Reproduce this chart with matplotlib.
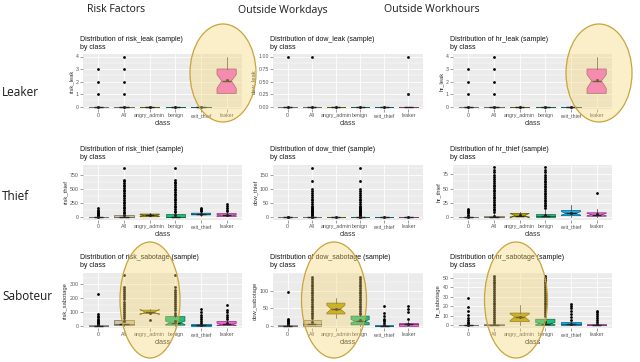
import matplotlib
matplotlib.use("Agg")
import matplotlib.pyplot as plt
from matplotlib.patches import Ellipse
from matplotlib.ticker import AutoMinorLocator
from matplotlib.colors import to_rgb

W, H = 640, 362

categories = ["0", "All", "angry_admin", "benign", "exit_thief", "leaker"]
box_colors = ["#d6cfc4", "#cdc3a6", "#b79f00", "#1dbf7a", "#13aee8", "#f564d8"]

col_titles = ["Risk Factors", "Outside Workdays", "Outside Workhours"]
row_titles = ["Leaker", "Thief", "Saboteur"]

# box stats per class: (whisker low, q1, median, q3, whisker high, mean)
risk_leak_stats = [(0, 0, 0, 0, 0, 0)] * 5 + [(1.05, 1.05, 2.05, 3.0, 4.0, 2.1)]
risk_leak_notch = [None] * 5 + [(1.45, 2.55)]
risk_leak_fliers = [[1, 2, 3], [1, 2, 3, 4], [], [], [], []]

dow_leak_stats = [(0, 0, 0, 0, 0, 0)] * 5 + [(0, 0, 0, 0, 0, 0.25)]
dow_leak_notch = [None] * 6
dow_leak_fliers = [[1.0], [1.0], [], [], [], [1.0]]

hr_leak_stats = [(0, 0, 0, 0, 0, 0)] * 5 + [(1.05, 1.05, 2.05, 3.0, 4.0, 2.1)]
hr_leak_notch = [None] * 5 + [(1.45, 2.55)]
hr_leak_fliers = [[1, 2, 3], [1, 2, 3, 4], [], [], [], []]

risk_thief_stats = [(0, 0, 2, 8, 20, 8), (0, 2, 12, 40, 60, 35), (5, 12, 35, 60, 75, 38),
                    (0, 3, 15, 60, 80, 40), (30, 45, 55, 75, 95, 60), (0, 15, 40, 70, 90, 45)]
risk_thief_notch = [None, None, (22, 48), None, (50, 62), (30, 50)]
risk_thief_fliers = [
    [25, 35, 45, 55, 70, 85, 100, 120, 140, 160],
    [70, 100, 130, 160, 190, 220, 250, 280, 310, 340, 370, 400, 430, 460, 490, 520, 550, 580, 610, 640, 660, 880],
    [],
    [90, 120, 150, 180, 210, 240, 270, 300, 330, 360, 390, 420, 450, 480, 510, 540, 570, 600, 630, 660, 880],
    [110, 130, 150, 170],
    [110, 140, 170, 200, 240],
]

dow_thief_stats = [(0, 0, 0, 0.5, 1, 0.3)] * 6
dow_thief_notch = [None] * 6
dow_thief_fliers = [
    [2],
    [3, 6, 9, 12, 15, 18, 21, 24, 27, 30, 34, 38, 42, 47, 53, 60, 65, 72, 80, 88, 95, 100, 128, 175],
    [],
    [3, 6, 9, 12, 15, 18, 21, 24, 27, 30, 34, 38, 42, 47, 53, 60, 65, 72, 80, 88, 95, 100, 128, 175],
    [], [],
]

hr_thief_stats = [(0, 0, 0, 1, 2, 0.5), (0, 0, 1, 3, 7, 2), (0, 1, 3, 7, 9, 3.5),
                  (0, 0, 2, 6, 12, 4), (0, 3, 7, 12, 22, 8), (0, 2, 5, 8, 15, 6)]
hr_thief_notch = [None, None, (-1, 7), None, (4, 10), (3, 7)]
hr_thief_fliers = [
    [3, 5, 7, 9, 11, 13, 15],
    [9, 12, 15, 18, 21, 24, 27, 30, 33, 36, 39, 42, 45, 48, 51, 54, 57, 60, 63, 66, 70, 74, 78, 82, 87],
    [],
    [16, 19, 22, 25, 28, 31, 34, 37, 40, 43, 46, 49, 52, 55, 58, 61, 64, 67, 70, 74, 78, 82, 87],
    [],
    [43],
]

risk_sab_stats = [(0, 0, 0, 2, 5, 3), (0, 2, 10, 40, 48, 30), (85, 88, 97, 112, 118, 95),
                  (0, 3, 20, 65, 75, 32), (0, 0, 2, 10, 15, 6), (0, 0, 8, 30, 40, 18)]
risk_sab_notch = [None, None, (78, 118), (8, 32), None, (2, 16)]
risk_sab_fliers = [
    [10, 15, 20, 25, 30, 40, 50, 60, 70, 85, 230],
    [55, 70, 85, 100, 115, 130, 145, 160, 175, 190, 205, 220, 235, 250, 265, 280, 365],
    [39],
    [80, 95, 110, 125, 140, 155, 170, 185, 200, 215, 230, 245, 260, 280, 365],
    [22, 35, 50, 65, 80, 100, 120],
    [50, 65, 80, 100, 110, 150],
]

dow_sab_stats = [(0, 0, 0, 1, 3, 1), (0, 0, 5, 16, 20, 10), (21, 33, 47, 64, 78, 46),
                 (0, 2, 12, 27, 30, 15), (0, 0, 0, 2, 4, 1), (0, 0, 3, 8, 12, 5)]
dow_sab_notch = [None, None, (36, 58), (8, 17), None, None]
dow_sab_fliers = [
    [5, 8, 10, 13, 16, 20, 95],
    [22, 27, 32, 37, 42, 47, 52, 57, 62, 67, 72, 77, 82, 87, 92, 97, 102, 107, 112, 117, 122, 127, 132, 138],
    [],
    [32, 37, 42, 47, 52, 57, 62, 67, 72, 77, 82, 87, 92, 97, 102, 107, 112, 117, 122, 127, 132, 138],
    [8, 12, 16, 20, 27, 35, 57],
    [20, 40, 48, 57],
]

hr_sab_stats = [(0, 0, 0, 0.5, 1, 0.5), (0, 0, 0.5, 2, 3, 1), (0, 4, 9, 13, 21, 9),
                (0, 0, 2, 6.5, 9, 4), (0, 0, 1, 3.5, 5, 2), (0, 0, 0.5, 2, 3, 1)]
hr_sab_notch = [None, None, (5, 12), (1, 3), None, None]
hr_sab_fliers = [
    [2, 3, 4, 6, 8, 11, 15, 19, 29],
    [4, 6, 8, 10, 12, 14, 16, 18, 20, 22, 24, 26, 28, 30, 32, 34, 36, 38, 40, 42, 44, 46, 48, 50, 52],
    [],
    [10, 12, 14, 16, 18, 20, 22, 24, 26, 28, 30, 32, 34, 36, 38, 40, 42, 44, 46, 48, 50, 52],
    [6, 9, 12, 15, 18, 20, 23],
    [4, 6, 8, 10, 12, 14, 15],
]

panels = [
    ("risk_leak", risk_leak_stats, risk_leak_notch, risk_leak_fliers, (-0.2, 4.2), [0, 1, 2, 3, 4], None),
    ("dow_leak", dow_leak_stats, dow_leak_notch, dow_leak_fliers, (-0.05, 1.05), [0, 0.25, 0.5, 0.75, 1.0],
     ["0.00", "0.25", "0.50", "0.75", "1.00"]),
    ("hr_leak", hr_leak_stats, hr_leak_notch, hr_leak_fliers, (-0.2, 4.2), [0, 1, 2, 3, 4], None),
    ("risk_thief", risk_thief_stats, risk_thief_notch, risk_thief_fliers, (-45, 925), [0, 250, 500, 750], None),
    ("dow_thief", dow_thief_stats, dow_thief_notch, dow_thief_fliers, (-9, 185), [0, 50, 100, 150], None),
    ("hr_thief", hr_thief_stats, hr_thief_notch, hr_thief_fliers, (-4.5, 91), [0, 25, 50, 75], None),
    ("risk_sabotage", risk_sab_stats, risk_sab_notch, risk_sab_fliers, (-18, 383), [0, 100, 200, 300], None),
    ("dow_sabotage", dow_sab_stats, dow_sab_notch, dow_sab_fliers, (-7, 150), [0, 50, 100], None),
    ("hr_sabotage", hr_sab_stats, hr_sab_notch, hr_sab_fliers, (-2.7, 55), [0, 10, 20, 30, 40, 50], None),
]

col_x = [(83, 242), (273, 423), (453, 612)]
row_y = [(54, 109), (165, 220), (273, 328)]

plt.rcParams["font.family"] = ["Liberation Sans", "DejaVu Sans"]
fig = plt.figure(figsize=(6.4, 3.62), dpi=100)


def dark(c, f=0.55):
    r, g, b = to_rgb(c)
    return (r * f, g * f, b * f)


for k, (name, stats, notch, fliers, ylim, yticks, ylabels) in enumerate(panels):
    r, c = divmod(k, 3)
    x0, x1 = col_x[c]
    y0, y1 = row_y[r]
    ax = fig.add_axes([x0 / W, 1 - y1 / H, (x1 - x0) / W, (y1 - y0) / H])
    ax.set_facecolor("#ebebeb")
    bstats = []
    for i, cat in enumerate(categories):
        lo, q1, med, q3, hi, mean = stats[i]
        ci = notch[i] if notch[i] else (med, med)
        bstats.append(dict(label=cat, whislo=lo, q1=q1, med=med, q3=q3, whishi=hi,
                           mean=mean, cilo=ci[0], cihi=ci[1], fliers=fliers[i]))
    art = ax.bxp(bstats, positions=range(6), widths=0.75, patch_artist=True,
                 shownotches=True, showmeans=True, showcaps=False,
                 boxprops=dict(linewidth=0.5),
                 whiskerprops=dict(color="#333333", linewidth=0.5),
                 medianprops=dict(color="#222222", linewidth=1.0),
                 meanprops=dict(marker="o", markersize=2.2, markerfacecolor="#222222",
                                markeredgecolor="none"),
                 flierprops=dict(marker="o", markersize=2.0, markerfacecolor="black",
                                 markeredgecolor="none"))
    for patch, col in zip(art["boxes"], box_colors):
        patch.set_facecolor(col)
        patch.set_edgecolor(dark(col))
    ax.set_xlim(-0.6, 5.6)
    ax.set_ylim(*ylim)
    ax.set_yticks(yticks)
    if ylabels:
        ax.set_yticklabels(ylabels)
    ax.yaxis.set_minor_locator(AutoMinorLocator(2))
    ax.grid(True, which="major", color="white", linewidth=0.6)
    ax.grid(True, which="minor", axis="y", color="white", linewidth=0.3)
    ax.set_axisbelow(True)
    for s in ax.spines.values():
        s.set_visible(False)
    ax.tick_params(length=2, width=0.4, color="#555555", labelsize=3.8,
                   labelcolor="#555555", pad=1)
    ax.tick_params(which="minor", length=0)
    ax.set_xlabel("class", fontsize=5, color="#333333", labelpad=1)
    ax.set_ylabel(name, fontsize=4.2, color="#333333", labelpad=1.5)
    fig.text((x0 - 3) / W, 1 - ([36, 146, 254][r]) / H,
             "Distribution of %s (sample)\nby class" % name,
             fontsize=5, ha="left", va="top", color="#111111", linespacing=1.15)

for txt, x in zip(col_titles, [116, 283, 432]):
    fig.text(x / W, 1 - 10 / H, txt, fontsize=7.6, ha="center", va="center",
             family=["Open Sans", "DejaVu Sans"], weight="medium", color="#1a1a1a")
for txt, y in zip(row_titles, [93, 197, 296]):
    fig.text(2 / W, 1 - y / H, txt, fontsize=8.5, ha="left", va="center",
             family=["Open Sans", "DejaVu Sans"], color="#1a1a1a")

# highlight ellipses
ov = fig.add_axes([0, 0, 1, 1], zorder=10)
ov.set_xlim(0, W)
ov.set_ylim(H, 0)
ov.axis("off")
ellipse_centers = [(223, 73), (599, 73), (150, 300), (334, 300), (516, 300)]
ellipse_sizes = [(66, 98), (66, 98), (60, 116), (65, 116), (63, 116)]
for (cx, cy), (ew, eh) in zip(ellipse_centers, ellipse_sizes):
    ov.add_patch(Ellipse((cx, cy), ew, eh, facecolor="#f5d56a", alpha=0.36,
                         edgecolor="none"))
    ov.add_patch(Ellipse((cx, cy), ew, eh, facecolor="none", edgecolor="#c9a43a",
                         linewidth=0.9))

fig.savefig("out.png", dpi=100)
